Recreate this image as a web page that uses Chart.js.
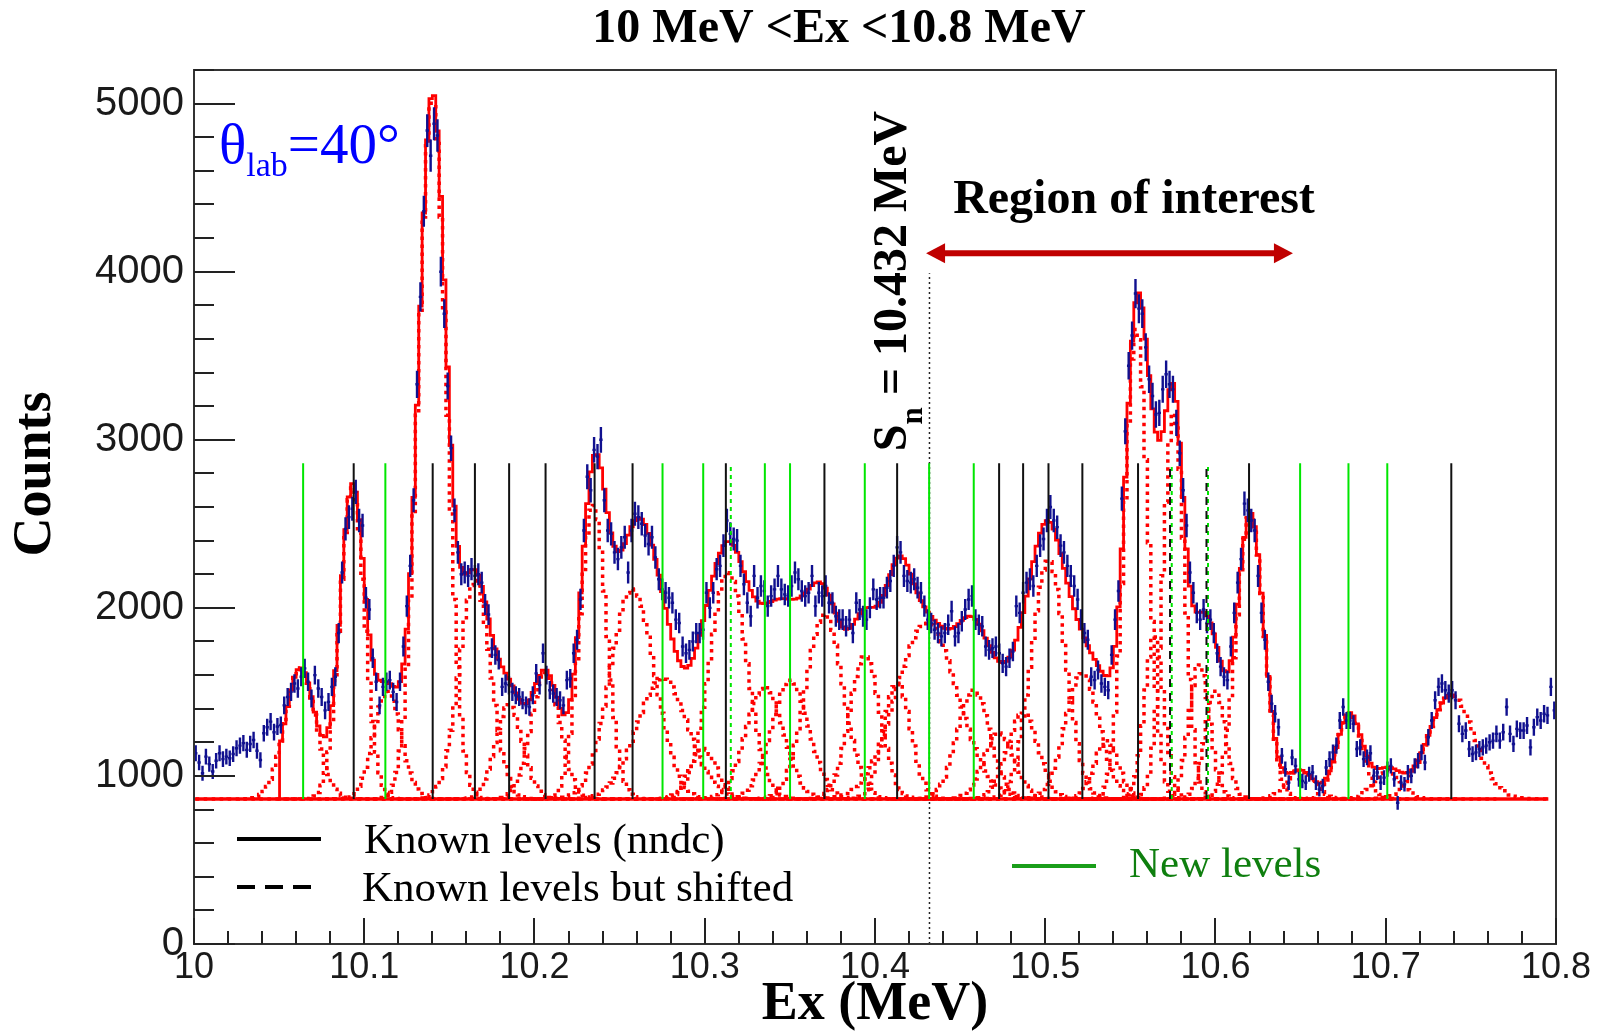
<!DOCTYPE html>
<html>
<head>
<meta charset="utf-8">
<title>Excitation energy spectrum 10 - 10.8 MeV</title>
<script src="https://cdn.jsdelivr.net/npm/chart.js@4.4.1/dist/chart.umd.min.js"></script>
<style>
  html, body { margin: 0; padding: 0; background: #ffffff; }
  #wrap { width: 1599px; height: 1032px; }
</style>
</head>
<body>
<div id="wrap"><canvas id="spectrum" width="1599" height="1032"></canvas></div>
<script>
// ---- histogram: counts per 2 keV bin, 10.000 - 10.800 MeV ----
const firstBinCentre = 10.001;
const binWidth = 0.002;
const counts = [
  1135, 1080, 1016, 1115, 1070, 1026, 1090, 1135, 1100, 1115, 1105, 1130, 1165, 1180, 1195, 1155, 1190, 1214, 1150, 1095, 1254, 1290, 1323, 1260, 1294,
  1303, 1420, 1470, 1500, 1550, 1520, 1590, 1640, 1560, 1460, 1600, 1520, 1470, 1390, 1440, 1530, 1590, 1850, 2210, 2470, 2540, 2590, 2690, 2520, 2490,
  2060, 1990, 1700, 1560, 1420, 1530, 1560, 1570, 1500, 1440, 1560, 1770, 2010, 2250, 2640, 3330, 3850, 4360, 4840, 4690, 4880, 4810, 4000, 3750, 3320,
  2950, 2580, 2330, 2200, 2210, 2190, 2230, 2190, 2200, 2150, 2020, 1960, 1760, 1720, 1690, 1530, 1550, 1540, 1500, 1480, 1470, 1450, 1420, 1410, 1480,
  1610, 1540, 1730, 1600, 1510, 1490, 1470, 1450, 1420, 1570, 1580, 1730, 1810, 2050, 2460, 2780, 2700, 2940, 2900, 3000, 2640, 2460, 2440, 2330, 2290,
  2360, 2420, 2210, 2460, 2560, 2540, 2500, 2430, 2380, 2420, 2300, 2170, 2110, 2090, 2060, 2030, 1930, 1910, 1770, 1730, 1750, 1800, 1850, 1850, 1870,
  2090, 2000, 2090, 2230, 2250, 2370, 2520, 2440, 2410, 2400, 2250, 2140, 2030, 1950, 2190, 2060, 2130, 2100, 2010, 2070, 2110, 2190, 2110, 2080, 2070,
  2130, 2210, 2170, 2100, 2070, 2090, 2190, 2010, 2090, 2070, 2130, 2030, 2030, 1950, 1930, 1930, 1890, 1930, 1850, 2030, 1990, 1950, 1930, 2000, 2110,
  2050, 2060, 2060, 2120, 2160, 2250, 2360, 2330, 2190, 2160, 2150, 2170, 2120, 2090, 2010, 1930, 1910, 1870, 1850, 1830, 1850, 1900, 1980, 1830, 1850,
  1920, 1990, 2050, 2070, 1930, 1900, 1890, 1770, 1750, 1760, 1770, 1730, 1670, 1650, 1700, 1740, 2010, 1970, 2090, 2150, 2170, 2130, 2250, 2370, 2410,
  2520, 2600, 2520, 2480, 2370, 2330, 2250, 2190, 2130, 2050, 1930, 1850, 1810, 1590, 1570, 1630, 1550, 1530, 1510, 1720, 1930, 2100, 2650, 3050, 3440,
  3620, 3870, 3780, 3750, 3550, 3360, 3260, 3150, 3160, 3300, 3390, 3330, 3300, 3100, 2920, 2700, 2490, 2210, 2090, 1970, 1930, 1990, 1910, 1930, 1850,
  1730, 1650, 1590, 1570, 1770, 1970, 2150, 2290, 2620, 2580, 2520, 2460, 2190, 1970, 1810, 1560, 1430, 1370, 1290, 1120, 1040, 960, 1110, 1060, 980,
  970, 960, 1010, 1020, 960, 920, 940, 1050, 1100, 1140, 1180, 1330, 1410, 1330, 1330, 1310, 1160, 1170, 1100, 1110, 1135, 1000, 1020, 960, 990,
  1040, 1060, 980, 840, 960, 950, 1020, 1000, 1060, 1090, 1140, 1080, 1230, 1330, 1450, 1530, 1550, 1510, 1490, 1510, 1450, 1310, 1250, 1270, 1160,
  1130, 1140, 1160, 1170, 1180, 1200, 1210, 1250, 1210, 1260, 1410, 1250, 1190, 1280, 1270, 1270, 1300, 1170, 1290, 1350, 1330, 1370, 1360, 1530, 1390
];
// statistical errors are drawn as sqrt(N) times this factor (weighted histogram)
const statErrorScale = 1.4;

// ---- multi-Gaussian fit: flat background + one Gaussian per peak ----
const background = 863;
const fitRange = [10.0495, 10.742];
const peakCentres = [10.0625, 10.0930, 10.1135, 10.1400, 10.1650, 10.1851, 10.2065, 10.2345, 10.2576, 10.2752,
                     10.2991, 10.3138, 10.3353, 10.3501, 10.3703, 10.3940, 10.4130, 10.4305, 10.4580, 10.4729,
                     10.4870, 10.5019, 10.5218, 10.5360, 10.5535, 10.5640, 10.5755, 10.5905, 10.6000, 10.6205,
                     10.6497, 10.6787, 10.7009, 10.7385];
const peakAmplitudes = [780, 1850, 640, 4170, 1300, 560, 750, 1750, 1250, 717,
                        300, 1350, 669, 708, 1100, 850, 689, 1046, 650, 393,
                        510, 1420, 748, 350, 2800, 980, 2300, 800, 650, 1700,
                        170, 510, 170, 620];
const peakSigmas = [0.0090, 0.0072, 0.0080, 0.0082, 0.0092, 0.0080, 0.0085, 0.0078, 0.0130, 0.0150,
                    0.0080, 0.0110, 0.0110, 0.0110, 0.0110, 0.0090, 0.0080, 0.0180, 0.0095, 0.0090,
                    0.0090, 0.0100, 0.0100, 0.0070, 0.0068, 0.0055, 0.0062, 0.0060, 0.0060, 0.0080,
                    0.0080, 0.0075, 0.0080, 0.0135];

// ---- level positions (MeV) ----
const knownLevels = [10.0938, 10.1402, 10.1650, 10.1851, 10.2065, 10.2353, 10.2576, 10.3124, 10.3703, 10.4130,
                     10.4729, 10.4870, 10.5019, 10.5218, 10.5545, 10.6197, 10.7385];
const shiftedLevels = [10.5733, 10.5947];
const newLevels = [10.0641, 10.1124, 10.2752, 10.2991, 10.3353, 10.3501, 10.3940, 10.4318, 10.4580, 10.6497,
                   10.6781, 10.7009];
const newShiftedLevels = [10.3153, 10.5743, 10.5956];
const levelMarkerSpan = [background, 2860];

// ---- neutron threshold and region of interest ----
const neutronSeparation = 10.432;
const thresholdLineTop = 3990;
const regionOfInterest = [10.430, 10.6455];
const regionArrowLevel = 4110;

// ---- axes ----
const xTickValues = [10, 10.1, 10.2, 10.3, 10.4, 10.5, 10.6, 10.7, 10.8];
const xTickLabels = ['10', '10.1', '10.2', '10.3', '10.4', '10.5', '10.6', '10.7', '10.8'];
const yTickValues = [0, 1000, 2000, 3000, 4000, 5000];
const yTickLabels = ['0', '1000', '2000', '3000', '4000', '5000'];
const chartTitle = '10 MeV <Ex <10.8 MeV';

// ---------------------------------------------------------------
const binCentres = counts.map((_, i) => +(firstBinCentre + i * binWidth).toFixed(4));

function peakShape(i, x) {
  const d = (x - peakCentres[i]) / peakSigmas[i];
  return peakAmplitudes[i] * Math.exp(-0.5 * d * d);
}

// data crosses: vertical statistical error + horizontal bin width
const errorBarPoints = [];
counts.forEach((n, i) => {
  const x = binCentres[i], e = statErrorScale * Math.sqrt(n), h = binWidth / 2;
  errorBarPoints.push({x, y: n - e}, {x, y: n + e}, {x, y: null},
                      {x: x - h, y: n}, {x: x + h, y: n}, {x: x + h, y: null});
});

// total fit curve
const totalPoints = [{x: fitRange[0], y: background}];
binCentres.forEach(x => {
  if (x < fitRange[0] || x > fitRange[1]) return;
  let y = background;
  for (let i = 0; i < peakCentres.length; i++) y += peakShape(i, x);
  totalPoints.push({x, y});
});

// individual components
const componentSets = peakCentres.map((c, i) => {
  const pts = [];
  binCentres.forEach(x => {
    if (x < c - 0.065 || x > c + 0.065 || x > 10.7955) return;
    pts.push({x, y: background + peakShape(i, x)});
  });
  return {
    data: pts, borderColor: '#ff0000', borderWidth: 3.5, borderDash: [3.5, 4.5],
    stepped: 'middle', pointRadius: 0, order: 4
  };
});

function levelSegments(list) {
  const pts = [];
  list.forEach(x => pts.push({x, y: levelMarkerSpan[0]}, {x, y: levelMarkerSpan[1]}, {x, y: null}));
  return pts;
}

const datasets = [
  {data: levelSegments(knownLevels), borderColor: '#111111', borderWidth: 2, order: 0},
  {data: levelSegments(newLevels), borderColor: '#00e600', borderWidth: 2, order: 0},
  {data: levelSegments(shiftedLevels), borderColor: '#111111', borderWidth: 2, borderDash: [8, 6], order: 0},
  {data: levelSegments(newShiftedLevels), borderColor: '#00e600', borderWidth: 2, borderDash: [4, 4], order: 0},
  {data: [{x: neutronSeparation, y: 0}, {x: neutronSeparation, y: thresholdLineTop}],
   borderColor: '#222222', borderWidth: 1.5, borderDash: [2, 3], order: 0},
  {data: errorBarPoints, borderColor: '#10108f', borderWidth: 2.4, order: 1},
  {data: totalPoints, borderColor: '#ff0000', borderWidth: 2.8, stepped: 'middle', order: 2},
  {data: [{x: 10.0, y: background}, {x: 10.7955, y: background}], borderColor: '#ff0000', borderWidth: 3.5, order: 5},
  ...componentSets
].map(d => Object.assign({pointRadius: 0, fill: false, spanGaps: false, tension: 0}, d));

const serif = '"Liberation Serif", "Times New Roman", serif';
const sans = '"Liberation Sans", Arial, Helvetica, sans-serif';

const decorations = {
  id: 'decorations',
  afterDatasetsDraw(chart) {
    const {ctx, chartArea: a} = chart;
    const xs = chart.scales.x, ys = chart.scales.y;
    ctx.save();

    // frame
    ctx.strokeStyle = '#333333';
    ctx.lineWidth = 2;
    ctx.strokeRect(a.left, a.top, a.right - a.left, a.bottom - a.top);

    // inward tick marks
    ctx.strokeStyle = '#222222';
    ctx.lineWidth = 2;
    ctx.beginPath();
    for (let v = 0; v <= 5200; v += 200) {
      const y = Math.round(ys.getPixelForValue(v));
      const len = yTickValues.includes(v) ? 41 : 20;
      ctx.moveTo(a.left, y); ctx.lineTo(a.left + len, y);
    }
    for (let k = 0; k <= 40; k++) {
      const v = 10 + k * 0.02;
      const x = Math.round(xs.getPixelForValue(v));
      const len = k % 5 === 0 ? 26 : 13;
      ctx.moveTo(x, a.bottom); ctx.lineTo(x, a.bottom - len);
    }
    ctx.stroke();

    // region-of-interest arrow
    const x1 = xs.getPixelForValue(regionOfInterest[0]);
    const x2 = xs.getPixelForValue(regionOfInterest[1]);
    const ya = ys.getPixelForValue(regionArrowLevel);
    ctx.strokeStyle = '#c00000';
    ctx.fillStyle = '#c00000';
    ctx.lineWidth = 6;
    ctx.beginPath(); ctx.moveTo(x1 + 14, ya); ctx.lineTo(x2 - 14, ya); ctx.stroke();
    ctx.beginPath(); ctx.moveTo(x1, ya); ctx.lineTo(x1 + 19, ya - 10); ctx.lineTo(x1 + 19, ya + 10); ctx.closePath(); ctx.fill();
    ctx.beginPath(); ctx.moveTo(x2, ya); ctx.lineTo(x2 - 19, ya - 10); ctx.lineTo(x2 - 19, ya + 10); ctx.closePath(); ctx.fill();

    // title
    ctx.fillStyle = '#000000';
    ctx.textAlign = 'center';
    ctx.textBaseline = 'middle';
    ctx.font = 'bold 48px ' + serif;
    ctx.fillText(chartTitle, 839, 30);

    // y axis title
    ctx.save();
    ctx.translate(36, 474);
    ctx.rotate(-Math.PI / 2);
    ctx.font = 'bold 54px ' + serif;
    ctx.fillText('Counts', 0, 0);
    ctx.restore();

    // region label
    ctx.font = 'bold 48px ' + serif;
    ctx.fillText('Region of interest', 1134, 201);

    // angle label
    ctx.fillStyle = '#0000ff';
    ctx.textAlign = 'left';
    ctx.textBaseline = 'alphabetic';
    ctx.font = '57px ' + serif;
    ctx.fillText('\u03B8', 219, 163);
    let tx = 219 + ctx.measureText('\u03B8').width;
    ctx.font = '34px ' + serif;
    ctx.fillText('lab', tx, 176);
    tx += ctx.measureText('lab').width;
    ctx.font = '57px ' + serif;
    ctx.fillText('=40\u00B0', tx, 163);

    // threshold label, rotated
    ctx.fillStyle = '#000000';
    ctx.font = 'bold 48px ' + serif;
    const wS = ctx.measureText('S').width;
    const rest = ' = 10.432 MeV';
    const wRest = ctx.measureText(rest).width;
    ctx.font = 'bold 31px ' + serif;
    const wN = ctx.measureText('n').width;
    const total = wS + wN + wRest;
    ctx.save();
    ctx.translate(906, 281 + total / 2);
    ctx.rotate(-Math.PI / 2);
    ctx.font = 'bold 48px ' + serif;
    ctx.fillText('S', 0, 0);
    ctx.font = 'bold 31px ' + serif;
    ctx.fillText('n', wS, 16);
    ctx.font = 'bold 48px ' + serif;
    ctx.fillText(rest, wS + wN, 0);
    ctx.restore();

    // legend
    ctx.lineWidth = 4;
    ctx.strokeStyle = '#000000';
    ctx.setLineDash([]);
    ctx.beginPath(); ctx.moveTo(237, 839); ctx.lineTo(321, 839); ctx.stroke();
    ctx.setLineDash([18, 10]);
    ctx.beginPath(); ctx.moveTo(237, 887); ctx.lineTo(313, 887); ctx.stroke();
    ctx.setLineDash([]);
    ctx.strokeStyle = '#1a9e1a';
    ctx.beginPath(); ctx.moveTo(1012, 866); ctx.lineTo(1096, 866); ctx.stroke();

    ctx.textBaseline = 'middle';
    ctx.font = '43px ' + serif;
    ctx.fillStyle = '#000000';
    ctx.fillText('Known levels (nndc)', 364, 842);
    ctx.fillText('Known levels but shifted', 362, 890);
    ctx.fillStyle = '#0f7f0f';
    ctx.fillText('New levels', 1129, 866);

    ctx.restore();
  }
};

new Chart(document.getElementById('spectrum'), {
  type: 'line',
  data: {datasets},
  options: {
    responsive: false,
    animation: false,
    devicePixelRatio: 1,
    events: [],
    layout: {padding: {top: 70, right: 43, left: 0, bottom: 0}},
    plugins: {legend: {display: false}, tooltip: {enabled: false}, title: {display: false}},
    scales: {
      x: {
        type: 'linear', min: 10, max: 10.8, position: 'bottom',
        afterFit(s) { s.height = 88; },
        afterBuildTicks(s) { s.ticks = xTickValues.map(v => ({value: v})); },
        grid: {display: false, drawTicks: false},
        border: {display: false},
        ticks: {
          padding: 2, color: '#1a1a1a', maxRotation: 0, autoSkip: false,
          font: {family: sans, size: 36, lineHeight: 1.2},
          callback: (v, i) => xTickLabels[i]
        },
        title: {
          display: true, text: 'Ex (MeV)', color: '#000000',
          font: {family: serif, size: 54, weight: 'bold', lineHeight: 1},
          padding: {top: 0, bottom: 0}
        }
      },
      y: {
        type: 'linear', min: 0, max: 5200, position: 'left',
        afterFit(s) { s.width = 194; },
        afterBuildTicks(s) { s.ticks = yTickValues.map(v => ({value: v})); },
        grid: {display: false, drawTicks: false},
        border: {display: false},
        ticks: {
          padding: 10, color: '#1a1a1a', autoSkip: false,
          font: {family: sans, size: 40},
          callback: (v, i) => yTickLabels[i]
        }
      }
    }
  },
  plugins: [decorations]
});
</script>
</body>
</html>
